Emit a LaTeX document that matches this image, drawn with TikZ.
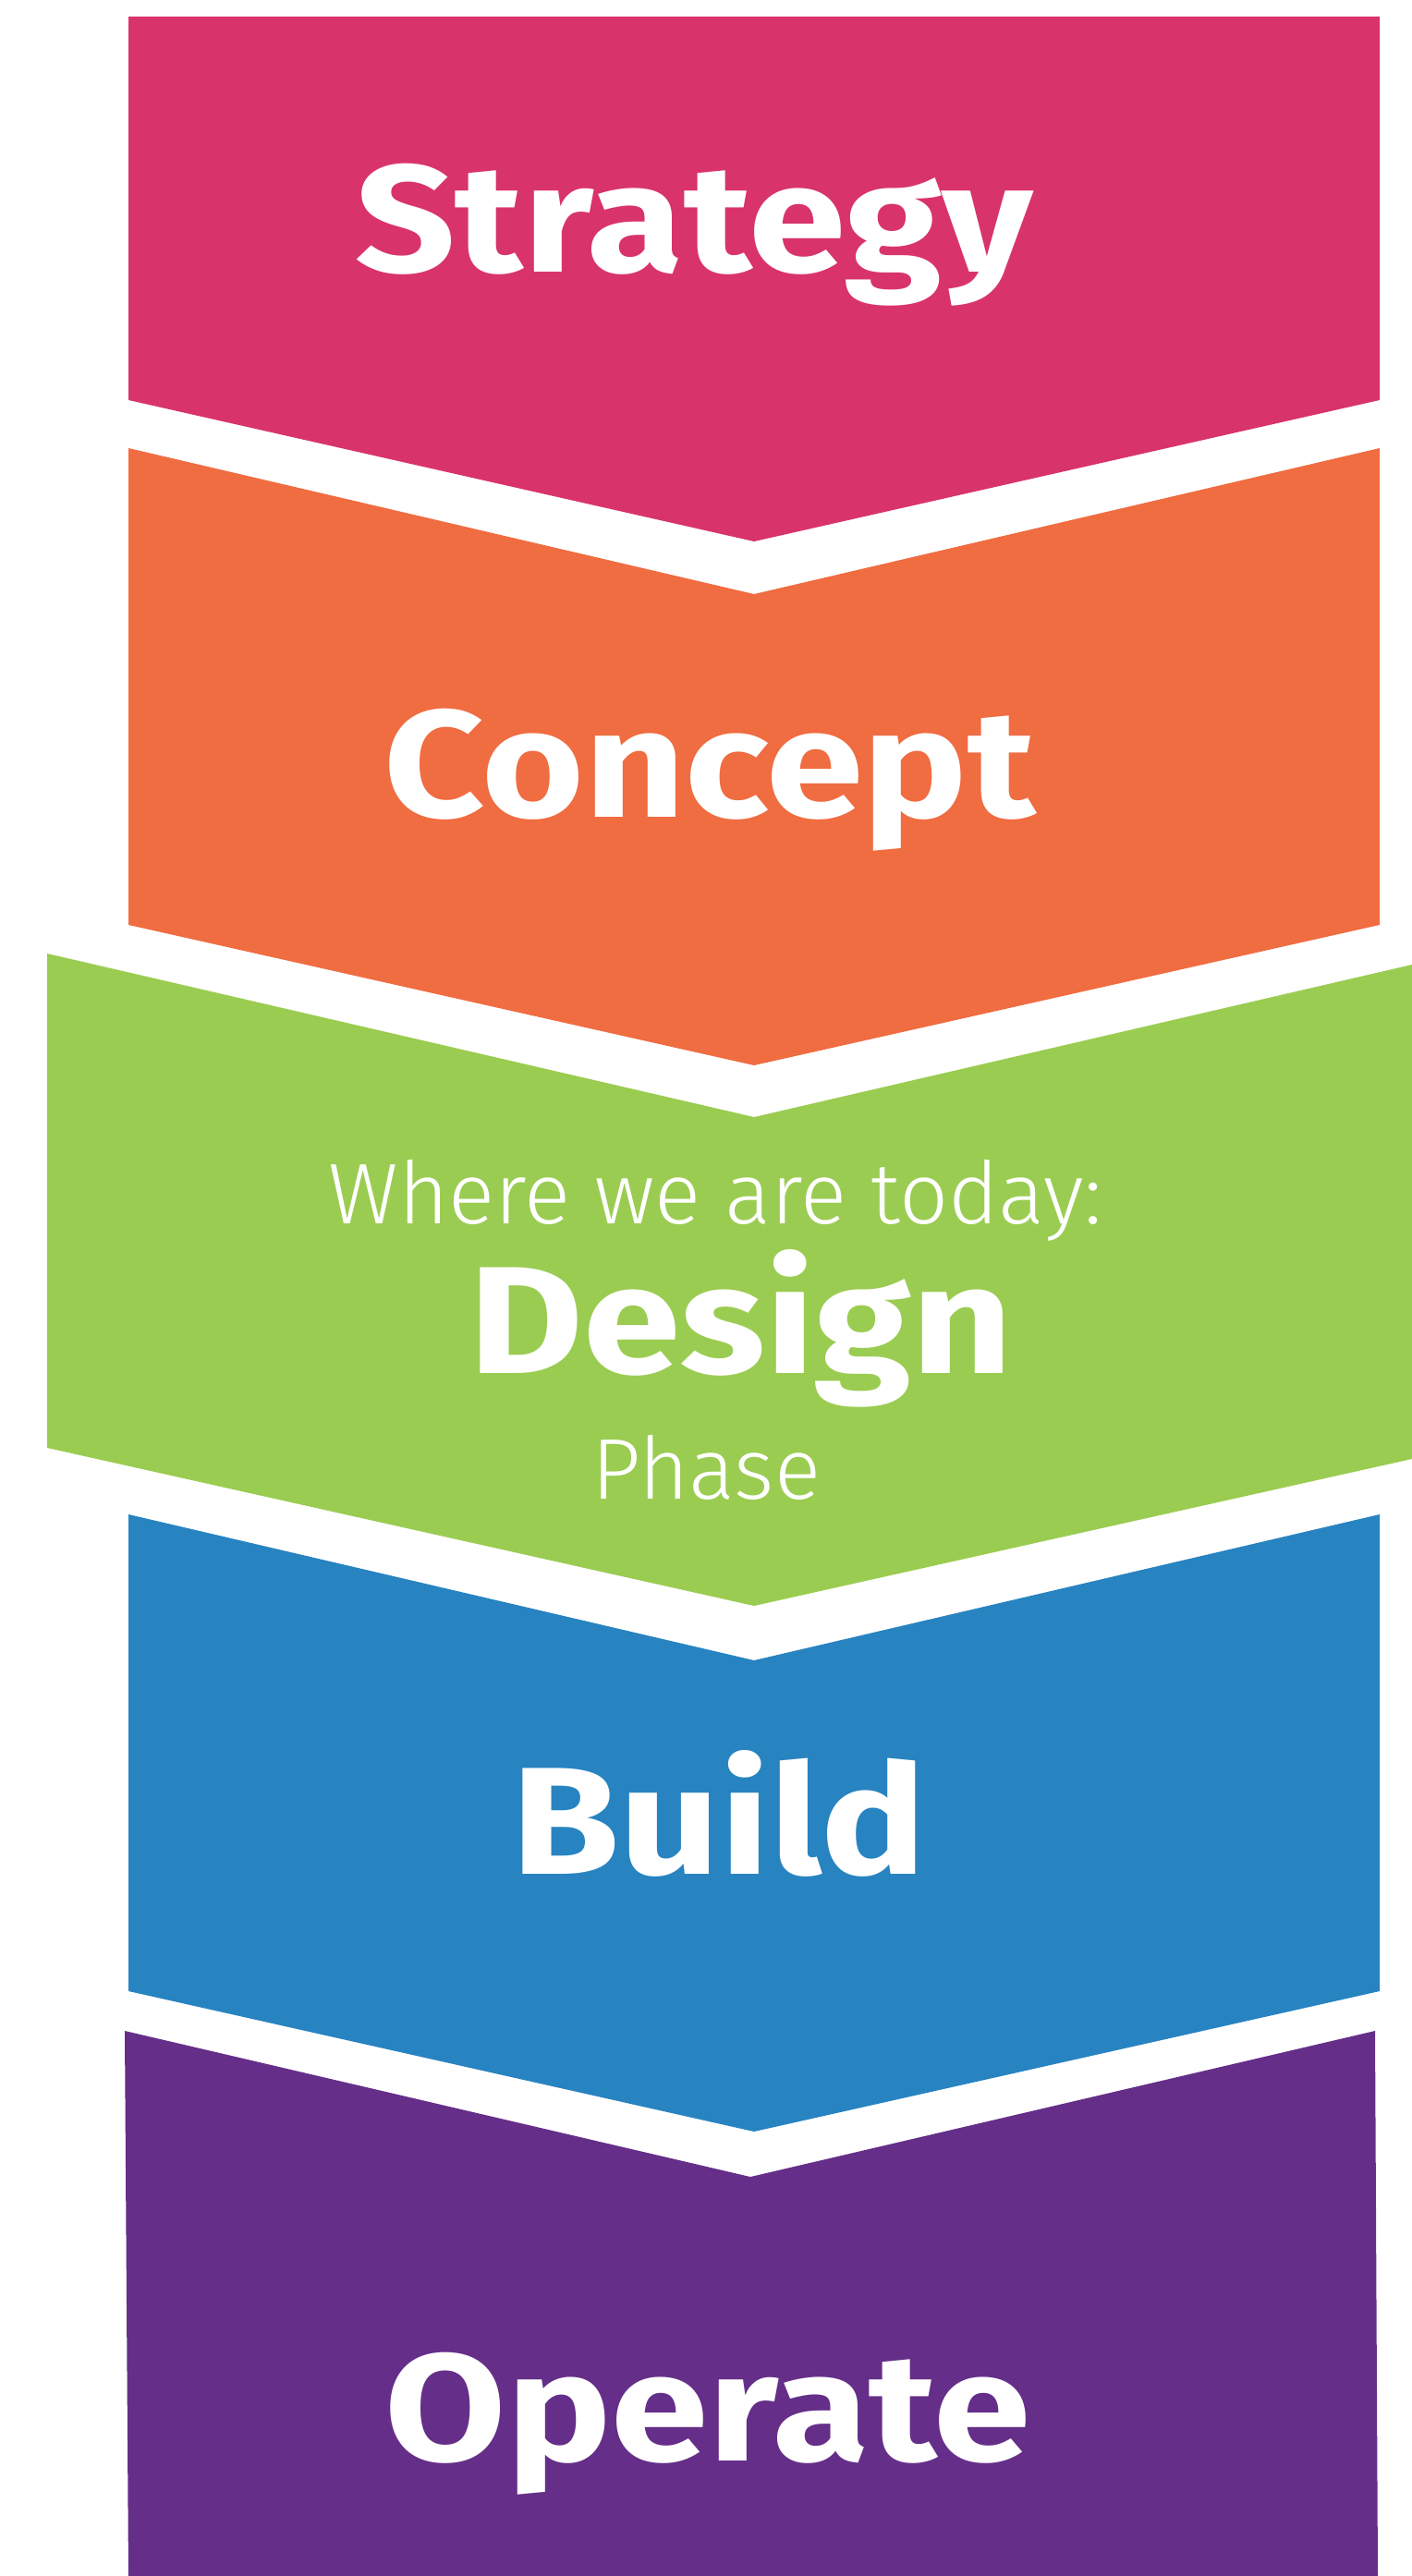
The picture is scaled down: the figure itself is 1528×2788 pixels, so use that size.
\documentclass[tikz,border=0pt]{standalone}
\usepackage{fontspec}
\usepackage{tikz}
\newfontfamily\stagefont{Fira Sans}[FakeStretch=1.15]
\newfontfamily\notefont{Fira Sans Light}
\definecolor{strategypink}{HTML}{D9336C}
\definecolor{conceptorange}{HTML}{F06C41}
\definecolor{designgreen}{HTML}{9BCC52}
\definecolor{buildblue}{HTML}{2883C1}
\definecolor{operatepurple}{HTML}{652E89}
\tikzset{
  stage/.style={text=white, inner sep=0pt, anchor=base,
    font=\stagefont\bfseries\fontsize{47}{50}\selectfont},
  note/.style={text=white, inner sep=0pt, anchor=base,
    font=\notefont\fontsize{26.5}{30}\selectfont}
}

\begin{document}
\begin{tikzpicture}[x=0.01cm, y=-0.01cm]
                \useasboundingbox (0,0) rectangle (1528,2788);
                \fill[strategypink] (139,18) -- (1493,18) -- (1493,433) -- (816,586) -- (139,433) -- cycle;
                \fill[conceptorange] (139,485) -- (816,643) -- (1493,485) -- (1493,1001) -- (816,1153) -- (139,1001) -- cycle;
                \fill[designgreen] (51,1032) -- (816,1209) -- (1528,1044) -- (1528,1579) -- (816,1738) -- (51,1567) -- cycle;
                \fill[buildblue] (139,1639) -- (816,1797) -- (1493,1639) -- (1493,2155) -- (816,2307) -- (139,2155) -- cycle;
                \fill[operatepurple] (135,2198) -- (812,2356) -- (1488,2198) -- (1491,2788) -- (139,2788) -- cycle;
                \node[stage] (strategy) at (751,295) {Strategy};
                \node[stage] (concept) at (768,884) {Concept};
                \node[note] (today) at (774,1324) {Where we are today:};
                \node[stage] (design) at (802,1486) {Design};
                \node[note] (phase) at (764,1622) {Phase};
                \node[stage] (build) at (778,2028) {Build};
                \node[stage] (operate) at (766,2663) {Operate};
            \end{tikzpicture}
\end{document}
